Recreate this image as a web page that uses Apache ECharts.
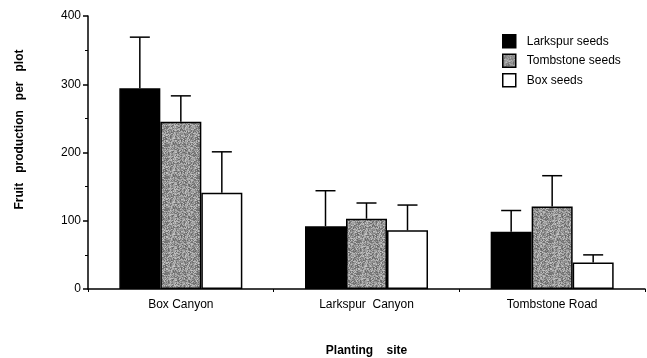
<!DOCTYPE html>
<html><head><meta charset="utf-8">
<script src="https://cdn.jsdelivr.net/npm/echarts@6/dist/echarts.min.js"></script>
<style>html,body{margin:0;padding:0;background:#fff}#c{width:647px;height:358px}</style>
</head><body><div id="c"></div>
<script>
const sites = ['Box Canyon', 'Larkspur  Canyon', 'Tombstone Road'];
const seriesNames = ['Larkspur seeds', 'Tombstone seeds', 'Box seeds'];
const larkspur = [294, 92, 84];
const tombstone = [245, 103, 121];
const box = [141, 86, 39];
const larkspurErr = [369, 144, 115];
const tombstoneErr = [283, 126, 166];
const boxErr = [201, 123, 50];
const yTicks = [0, 100, 200, 300, 400];

// stippled gray texture (deterministic hash, style only)
function stipple() {
  const c = document.createElement('canvas');
  c.width = 32; c.height = 32;
  const ctx = c.getContext('2d');
  const img = ctx.createImageData(32, 32);
  for (let p = 0; p < 32 * 32; p++) {
    let h = (p * 2654435761) >>> 0;
    h ^= h >>> 13; h = (h * 1274126177) >>> 0; h ^= h >>> 16;
    const g = 150 + (h % 50);
    img.data[p * 4] = g; img.data[p * 4 + 1] = g; img.data[p * 4 + 2] = g; img.data[p * 4 + 3] = 255;
  }
  ctx.putImageData(img, 0, 0);
  return c;
}
const grayFill = { image: stipple(), repeat: 'repeat' };

const colors = ['#000000', grayFill, '#ffffff'];
const values = [larkspur, tombstone, box];
const errs = [larkspurErr, tombstoneErr, boxErr];
const BW = 41;
const font = 'Liberation Sans, Arial, sans-serif';

const chart = echarts.init(document.getElementById('c'));
const series = [];
values.forEach((v, i) => {
  series.push({
    name: seriesNames[i], type: 'bar', data: v, barWidth: BW, barGap: '0%',
    itemStyle: { color: colors[i], borderColor: '#000', borderWidth: 1.5 },
    z: 2
  });
});
errs.forEach((e, i) => {
  series.push({
    type: 'custom', silent: true, z: 1,
    data: e.map((top, j) => [j, values[i][j], top]),
    renderItem: function (params, api) {
      const base = api.coord([api.value(0), api.value(1)]);
      const top = api.coord([api.value(0), api.value(2)]);
      const x = base[0] + (i - 1) * BW;
      return {
        type: 'group', children: [
          { type: 'line', shape: { x1: x, y1: base[1], x2: x, y2: top[1] }, style: { stroke: '#000', lineWidth: 1.5 } },
          { type: 'line', shape: { x1: x - 10, y1: top[1], x2: x + 10, y2: top[1] }, style: { stroke: '#000', lineWidth: 1.5 } }
        ]
      };
    }
  });
});

chart.setOption({
  animation: false,
  backgroundColor: '#fff',
  grid: { left: 88, right: 2, top: 16, bottom: 69, outerBoundsMode: 'none' },
  legend: {
    orient: 'vertical', left: 497, top: 29, itemWidth: 13, itemHeight: 13, itemGap: 5,
    data: seriesNames.map((n) => ({ name: n, icon: 'rect' })),
    itemStyle: { borderColor: '#000', borderWidth: 1.5 },
    textStyle: { fontFamily: font, fontSize: 12, color: '#000', padding: [0, 0, 0, 6] }
  },
  xAxis: {
    type: 'category', data: sites,
    name: 'Planting    site', nameLocation: 'middle', nameGap: 56,
    nameTextStyle: { fontFamily: font, fontSize: 12, fontWeight: 'bold', color: '#000' },
    axisLine: { lineStyle: { color: '#000', width: 1.5 } },
    axisTick: { show: true, length: 3, lineStyle: { color: '#000' } },
    axisLabel: { fontFamily: font, fontSize: 12, color: '#000', margin: 10 }
  },
  yAxis: {
    type: 'value', min: yTicks[0], max: yTicks[yTicks.length - 1], interval: 100,
    name: 'Fruit   production   per   plot', nameLocation: 'middle', nameGap: 62,
    nameTextStyle: { fontFamily: font, fontSize: 12, fontWeight: 'bold', color: '#000', padding: [0, 0, 0, 46] },
    axisLine: { show: true, lineStyle: { color: '#000', width: 1.5 } },
    axisTick: { show: true, length: 5, lineStyle: { color: '#000', width: 1.5 } },
    minorTick: { show: true, splitNumber: 2, length: 3, lineStyle: { color: '#000' } },
    splitLine: { show: false },
    axisLabel: { fontFamily: font, fontSize: 12, color: '#000', margin: 7 }
  },
  series: series
});
</script></body></html>
